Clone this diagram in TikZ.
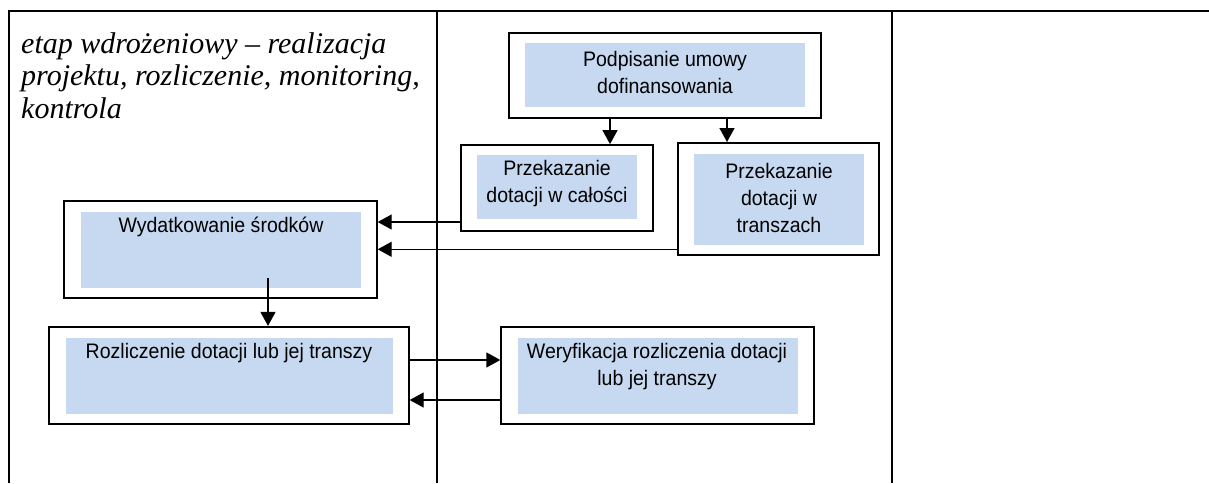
\documentclass[tikz,border=0pt]{standalone}
\usepackage{fontspec}
\setmainfont{Liberation Serif}
\newfontfamily\arial[FakeStretch=0.93]{Liberation Sans}
\usetikzlibrary{arrows.meta}
\definecolor{niebieski}{RGB}{198,217,241}

\begin{document}
\begin{tikzpicture}[x=1pt,y=-1pt,
    ramka/.style={draw,line width=1.8pt,inner sep=0pt},
    tlo/.style={fill=niebieski,inner sep=0pt},
    opis/.style={font=\arial\fontsize{21}{27}\selectfont,align=center,inner sep=0pt},
    strzalka/.style={-{Triangle[length=14pt,width=15pt]},line width=1.4pt}]
        \useasboundingbox (0,0) rectangle (1209,483);

        % Tabela
        \draw[line width=2pt] (9,483) -- (9,10.7) -- (1209,10.7);
        \draw[line width=2pt] (437,10.7) -- (437,483);
        \draw[line width=2pt] (891.5,10.7) -- (891.5,483);

        % Etap
        \node[anchor=north west,inner sep=0pt,align=left,font=\itshape\fontsize{30}{32.5}\selectfont] (etap) at (21,32)
            {etap wdrożeniowy – realizacja\\projektu, rozliczenie, monitoring,\\kontrola};

        % Ramki
        \node[ramka,minimum width=312pt,minimum height=85pt] (podpis) at (665,75.4) {};
        \node[tlo,minimum width=280pt,minimum height=64pt] (podpisF) at (665,74.8) {};
        \node[opis] (podpisT) at (665,72) {Podpisanie umowy\\dofinansowania};

        \node[ramka,minimum width=192pt,minimum height=86pt] (calosc) at (557,188) {};
        \node[tlo,minimum width=160pt,minimum height=64pt] (caloscF) at (556.7,187) {};
        \node[opis] (caloscT) at (557,184) {Przekazanie\\dotacji w całości};

        \node[ramka,minimum width=201pt,minimum height=112pt] (transze) at (778.3,198.9) {};
        \node[tlo,minimum width=170pt,minimum height=91pt] (transzeF) at (779,199.5) {};
        \node[opis] (transzeT) at (779,198) {Przekazanie\\dotacji w\\transzach};

        \node[ramka,minimum width=313pt,minimum height=97pt] (wydat) at (220.3,249.5) {};
        \node[tlo,minimum width=280pt,minimum height=76pt] (wydatF) at (221,249.8) {};
        \node[opis] (wydatT) at (221,227) {Wydatkowanie środków};

        \node[ramka,minimum width=360pt,minimum height=97pt] (rozl) at (228.8,375.3) {};
        \node[tlo,minimum width=327pt,minimum height=76pt] (rozlF) at (229.5,375.8) {};
        \node[opis] (rozlT) at (229,353) {Rozliczenie dotacji lub jej transzy};

        \node[ramka,minimum width=313pt,minimum height=97pt] (weryf) at (657.7,375.6) {};
        \node[tlo,minimum width=280pt,minimum height=76pt] (weryfF) at (657.5,375.5) {};
        \node[opis] (weryfT) at (657,367) {Weryfikacja rozliczenia dotacji\\lub jej transzy};

        % Strzałki
        \draw[strzalka] ([xshift=-55pt]podpis.south) -- ([xshift=-55pt]podpis.south |- calosc.north);
        \draw[strzalka] ([xshift=62pt]podpis.south) -- ([xshift=62pt]podpis.south |- transze.north);
        \draw[strzalka] ([yshift=-34pt]calosc.west) -- ([yshift=-34pt]calosc.west -| wydat.east);
        \draw[strzalka] ([yshift=-50.4pt]transze.west) -- ([yshift=-50.4pt]transze.west -| wydat.east);
        \draw[strzalka] ([xshift=47pt,yshift=10pt]wydatF.south) -- ([xshift=47pt]wydatF.south |- rozl.north);
        \draw[strzalka] ([yshift=15.3pt]rozl.east) -- ([yshift=15.3pt]rozl.east -| weryf.west);
        \draw[strzalka] ([yshift=-24.4pt]weryf.west) -- ([yshift=-24.4pt]weryf.west -| rozl.east);
    \end{tikzpicture}
\end{document}
